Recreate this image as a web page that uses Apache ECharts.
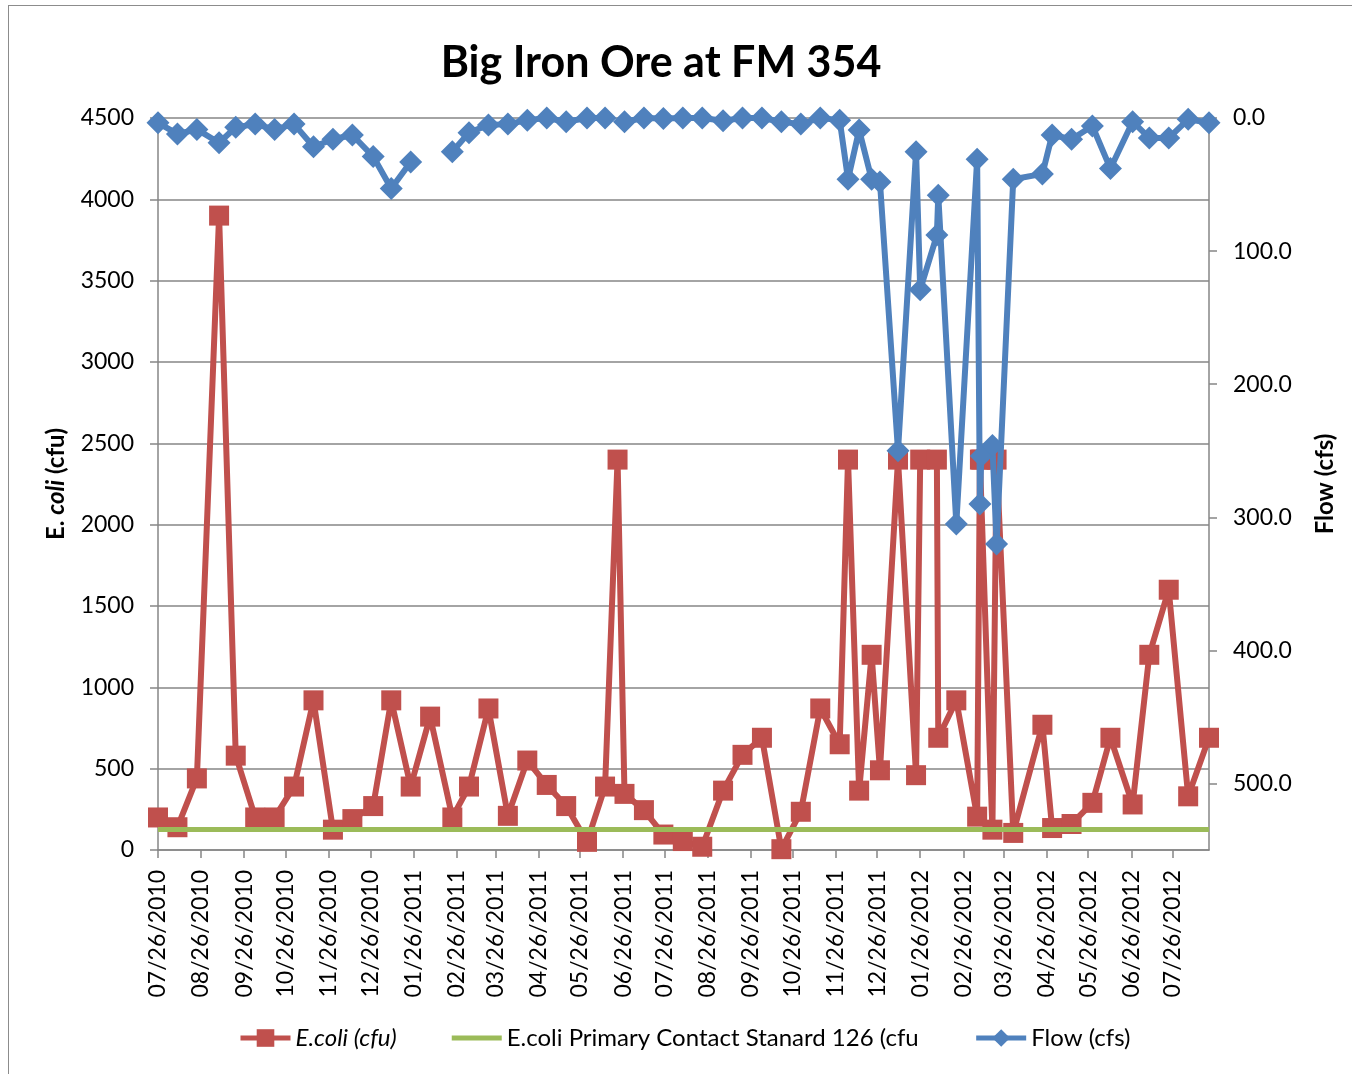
<!DOCTYPE html>
<html>
<head>
<meta charset="utf-8">
<title>Big Iron Ore at FM 354</title>
<script src="https://cdn.jsdelivr.net/npm/echarts@6/dist/echarts.min.js"></script>
<style>
  html, body { margin: 0; padding: 0; background: #ffffff; overflow: hidden; }
  #frame { position: absolute; left: 8px; top: 5px; width: 1400px; height: 1100px;
           border: 1px solid #8c8c8c; box-sizing: border-box; }
  #chart { position: absolute; left: 0; top: 0; width: 1352px; height: 1074px; }
</style>
</head>
<body>
<div id="frame"></div>
<div id="chart"></div>
<script>
// Sampling dates (YYYY-MM-DD)
const sampleDates = [
  '2010-07-26','2010-08-09','2010-08-23','2010-09-08','2010-09-20','2010-10-04','2010-10-18',
  '2010-11-01','2010-11-15','2010-11-29','2010-12-13','2010-12-28','2011-01-10','2011-01-24',
  '2011-02-07','2011-02-23','2011-03-07','2011-03-21','2011-04-04','2011-04-18','2011-05-02',
  '2011-05-16','2011-05-31','2011-06-13','2011-06-22','2011-06-27','2011-07-11','2011-07-25',
  '2011-08-08','2011-08-22','2011-09-06','2011-09-20','2011-10-04','2011-10-18','2011-11-01',
  '2011-11-15','2011-11-29','2011-12-05','2011-12-13','2011-12-22','2011-12-28','2012-01-10',
  '2012-01-23','2012-01-26','2012-02-07','2012-02-08','2012-02-21','2012-03-07','2012-03-09',
  '2012-03-10','2012-03-18','2012-03-21','2012-04-02','2012-04-23','2012-04-30','2012-05-14',
  '2012-05-29','2012-06-11','2012-06-27','2012-07-09','2012-07-23','2012-08-06','2012-08-21'
];

// E. coli counts (cfu)
const ecoliCfu = [
  200, 140, 440, 3900, 580, 200, 200, 390, 920, 125,
  190, 270, 920, 390, 820, 200, 390, 870, 210, 550,
  400, 270, 50, 390, 2400, 345, 245, 95, 55, 20,
  365, 585, 690, 5, 235, 870, 650, 2400, 365, 1200,
  490, 2400, 460, 2400, 2400, 690, 920, 205, 2400, 2400,
  125, 2400, 105, 770, 135, 160, 290, 690, 280, 1200,
  1600, 330, 690
];

// Stream flow (cfs); null = no flow measurement that day
const flowCfs = [
  3.6, 12, 8.6, 18.6, 7, 4.6, 8.6, 4.6, 21.6, 16,
  12.8, 29, 53, 33, null, 25.4, 11, 5.3, 4.6, 1.6,
  0, 2.8, 0, 0, null, 2.8, 0, 0.3, 0, 0,
  2, 0, 0, 2.8, 4.6, 0, 1.6, 46, 9, 46,
  48, 250, 25.4, 129, 88, 58, 305, 31, 290, 254,
  246, 320, 46, 42, 12.8, 16, 6, 38, 2.8, 15,
  15, 1, 3.6
];

// Primary contact recreation standard (cfu)
const contactStandard = 126;

// Date-axis tick labels
const dateTicks = [
  '07/26/2010','08/26/2010','09/26/2010','10/26/2010','11/26/2010','12/26/2010',
  '01/26/2011','02/26/2011','03/26/2011','04/26/2011','05/26/2011','06/26/2011',
  '07/26/2011','08/26/2011','09/26/2011','10/26/2011','11/26/2011','12/26/2011',
  '01/26/2012','02/26/2012','03/26/2012','04/26/2012','05/26/2012','06/26/2012','07/26/2012'
];

const flowTicks = [0, 100, 200, 300, 400, 500];

// The x axis is a linear day count from the first sample date
const DAY = 86400000;
function isoToUtc(s) {
  const [y, m, d] = s.split('-').map(Number);
  return Date.UTC(y, m - 1, d);
}
function usToUtc(s) {
  const [m, d, y] = s.split('/').map(Number);
  return Date.UTC(y, m - 1, d);
}
const origin = isoToUtc(sampleDates[0]);
const dayOf = (utc) => Math.round((utc - origin) / DAY);
function pad(n) { return (n < 10 ? '0' : '') + n; }
function fmtDay(v) {
  const dt = new Date(origin + Math.round(v) * DAY);
  return pad(dt.getUTCMonth() + 1) + '/' + pad(dt.getUTCDate()) + '/' + dt.getUTCFullYear();
}

const sampleDays = sampleDates.map((s) => dayOf(isoToUtc(s)));
const tickDays = dateTicks.map((s) => dayOf(usToUtc(s)));

const FONT = 'Lato';
const AXIS_GRAY = '#868686';
const RED = '#C0504D';
const GREEN = '#9BBB59';
const BLUE = '#4F81BD';

const chart = echarts.init(document.getElementById('chart'), null, { renderer: 'canvas' });

chart.setOption({
  animation: false,
  backgroundColor: 'transparent',
  textStyle: { fontFamily: FONT, color: '#000' },
  title: {
    text: 'Big Iron Ore at FM 354',
    left: 656,
    textAlign: 'center',
    top: 37,
    textStyle: { fontFamily: FONT, fontSize: 43, fontWeight: 'bold', color: '#000' }
  },
  legend: {
    left: 233,
    top: 1021,
    itemWidth: 50,
    itemHeight: 22,
    itemGap: 55,
    lineStyle: { width: 5 },
    textStyle: { fontFamily: FONT, fontSize: 24, color: '#000' },
    data: [
      { name: 'E.coli (cfu)', textStyle: { fontStyle: 'italic' } },
      { name: 'E.coli Primary Contact Stanard 126 (cfu', icon: 'path://M0,0H50V5H0Z' },
      { name: 'Flow (cfs)' }
    ]
  },
  grid: { left: 158, right: 143, top: 118, bottom: 224, containLabel: false },
  xAxis: {
    type: 'value',
    min: sampleDays[0],
    max: sampleDays[sampleDays.length - 1],
    axisLine: { show: true, lineStyle: { color: AXIS_GRAY, width: 1.5 } },
    axisTick: { show: true, length: 8, lineStyle: { color: AXIS_GRAY, width: 1.5 }, customValues: tickDays },
    axisLabel: {
      customValues: tickDays,
      rotate: 90,
      margin: 20,
      fontFamily: FONT,
      fontSize: 23,
      color: '#000',
      hideOverlap: false,
      formatter: (v) => fmtDay(v)
    },
    splitLine: { show: false }
  },
  yAxis: [
    {
      type: 'value',
      min: 0,
      max: 4500,
      interval: 500,
      name: '{b|E. }{bi|coli}{b| (cfu)}',
      nameLocation: 'middle',
      nameRotate: 90,
      nameGap: 90,
      nameTextStyle: {
        rich: {
          b: { fontFamily: FONT, fontSize: 24, fontWeight: 'bold', color: '#000' },
          bi: { fontFamily: FONT, fontSize: 24, fontWeight: 'bold', fontStyle: 'italic', color: '#000' }
        }
      },
      axisLine: { show: true, lineStyle: { color: AXIS_GRAY, width: 1.5 } },
      axisTick: { show: true, length: 8, lineStyle: { color: AXIS_GRAY, width: 1.5 } },
      axisLabel: {
        margin: 24,
        fontFamily: FONT,
        fontSize: 23,
        color: '#000',
        formatter: (v) => String(v)
      },
      splitLine: { show: true, lineStyle: { color: AXIS_GRAY, width: 1.5 } }
    },
    {
      type: 'value',
      min: 0,
      max: 550,
      inverse: true,
      position: 'right',
      name: 'Flow (cfs)',
      nameLocation: 'middle',
      nameRotate: 90,
      nameGap: 104,
      nameTextStyle: { fontFamily: FONT, fontSize: 24, fontWeight: 'bold', color: '#000' },
      axisLine: { show: true, lineStyle: { color: AXIS_GRAY, width: 1.5 } },
      axisTick: { show: true, length: 8, lineStyle: { color: AXIS_GRAY, width: 1.5 }, customValues: flowTicks },
      axisLabel: {
        customValues: flowTicks,
        margin: 24,
        fontFamily: FONT,
        fontSize: 23,
        color: '#000',
        formatter: (v) => Number(v).toFixed(1)
      },
      splitLine: { show: false }
    }
  ],
  series: [
    {
      name: 'E.coli (cfu)',
      type: 'line',
      yAxisIndex: 0,
      data: sampleDays.map((d, i) => [d, ecoliCfu[i]]),
      symbol: 'rect',
      symbolSize: 20,
      showAllSymbol: true,
      lineStyle: { color: RED, width: 6 },
      itemStyle: { color: RED },
      z: 2
    },
    {
      name: 'E.coli Primary Contact Stanard 126 (cfu',
      type: 'line',
      yAxisIndex: 0,
      data: sampleDays.map((d) => [d, contactStandard]),
      symbol: 'none',
      lineStyle: { color: GREEN, width: 5 },
      itemStyle: { color: GREEN },
      z: 3
    },
    {
      name: 'Flow (cfs)',
      type: 'line',
      yAxisIndex: 1,
      data: sampleDays.map((d, i) => [d, flowCfs[i] === null ? '-' : flowCfs[i]]),
      connectNulls: false,
      symbol: 'diamond',
      symbolSize: 23,
      showAllSymbol: true,
      lineStyle: { color: BLUE, width: 6 },
      itemStyle: { color: BLUE },
      z: 4
    }
  ]
});
</script>
</body>
</html>
